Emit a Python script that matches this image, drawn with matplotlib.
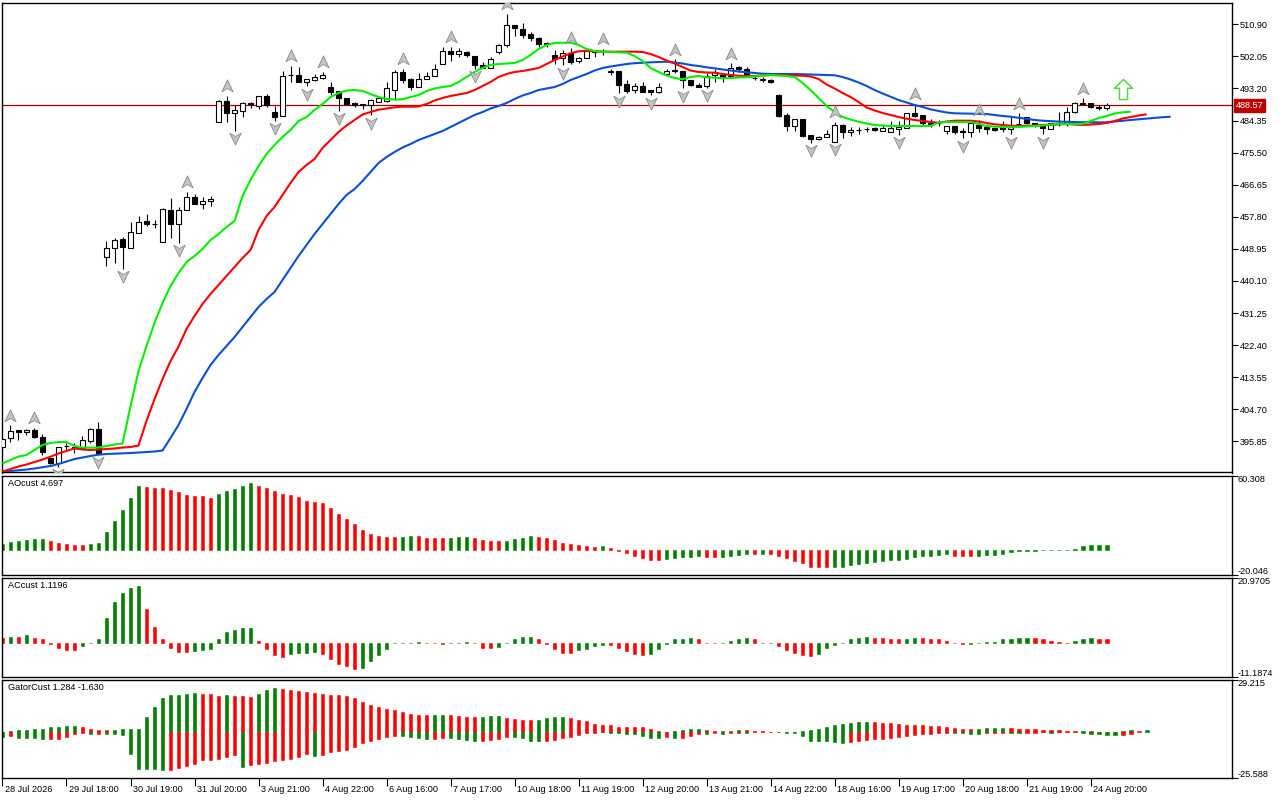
import numpy as np
import matplotlib
matplotlib.use("Agg")
import matplotlib.pyplot as plt
from matplotlib.path import Path
from matplotlib import transforms
from matplotlib import font_manager as fm

# ---------------- data ----------------
date_labels = ["28 Jul 2026", "29 Jul 18:00", "30 Jul 19:00", "31 Jul 20:00", "3 Aug 21:00",
               "4 Aug 22:00", "6 Aug 16:00", "7 Aug 17:00", "10 Aug 18:00", "11 Aug 19:00",
               "12 Aug 20:00", "13 Aug 21:00", "14 Aug 22:00", "18 Aug 16:00", "19 Aug 17:00",
               "20 Aug 18:00", "21 Aug 19:00", "24 Aug 20:00"]
price_ticks = [510.90, 502.05, 493.20, 484.35, 475.50, 466.65, 457.80, 448.95, 440.10,
               431.25, 422.40, 413.55, 404.70, 395.85]

open_ = [394.2, 396.7, 398.9, 398.3, 398.9, 397.1, 391.2, 389.8, 394.5, 394.0,
         393.9, 396.0, 399.2, 446.6, 449.1, 451.7, 449.3, 453.2, 456.6, 455.9,
         450.9, 459.6, 455.7, 459.6, 463.3, 461.2, 462.1, 484.0, 489.7, 486.3,
         487.1, 488.8, 488.4, 491.0, 486.6, 485.7, 496.8, 496.9, 494.9, 495.5,
         496.2, 493.5, 492.5, 490.7, 489.1, 488.8, 488.5, 489.6, 489.7, 492.9,
         497.7, 495.9, 493.7, 495.9, 496.6, 499.9, 503.5, 502.6, 503.3, 502.2,
         499.7, 498.9, 503.3, 505.2, 510.7, 509.5, 508.2, 507.0, 505.7, 502.4,
         501.5, 502.9, 500.9, 501.5, 503.2, 503.4, 497.8, 498.0, 494.4, 492.8,
         493.9, 492.8, 492.3, 497.2, 498.1, 498.0, 495.5, 494.2, 493.9, 497.0,
         496.9, 496.5, 499.2, 498.7, 496.1, 495.8, 495.5, 491.4, 485.9, 482.9,
         484.8, 480.4, 479.2, 479.7, 478.5, 483.1, 481.1, 481.7, 482.0, 482.2,
         481.5, 481.1, 481.9, 482.4, 486.3, 485.9, 483.6, 483.6, 481.6, 482.8,
         481.6, 481.3, 483.1, 482.5, 482.2, 482.5, 482.0, 483.4, 485.2, 483.6,
         482.8, 481.9, 483.5, 483.4, 486.8, 489.0, 489.1, 488.2, 487.7]
high = [397.0, 400.3, 398.9, 399.2, 399.6, 398.0, 391.3, 394.4, 395.5, 395.3,
        397.3, 399.6, 401.2, 451.2, 452.0, 452.3, 456.3, 458.0, 458.5, 456.9,
        460.1, 462.9, 460.4, 464.7, 464.0, 463.3, 463.6, 490.0, 491.1, 488.6,
        489.6, 489.6, 491.0, 491.7, 488.4, 498.0, 499.4, 499.0, 495.7, 497.2,
        497.7, 495.1, 492.5, 490.7, 489.6, 488.8, 490.2, 490.9, 495.1, 498.4,
        498.7, 496.2, 497.4, 497.8, 499.9, 504.5, 504.7, 504.3, 503.6, 502.2,
        500.6, 501.8, 505.6, 513.7, 510.7, 511.2, 508.9, 507.3, 506.1, 503.8,
        503.8, 504.4, 502.0, 503.9, 503.7, 504.1, 498.7, 498.0, 495.5, 494.6,
        495.1, 492.8, 494.6, 498.7, 501.2, 498.0, 495.5, 494.6, 497.4, 498.7,
        496.9, 500.1, 499.4, 499.2, 496.9, 496.3, 495.7, 491.6, 486.5, 484.8,
        484.8, 480.4, 480.1, 481.7, 484.0, 483.4, 482.7, 482.7, 482.5, 482.7,
        483.4, 484.3, 484.3, 486.3, 488.9, 485.9, 484.7, 484.5, 482.8, 482.8,
        482.2, 484.0, 484.5, 483.4, 482.7, 484.3, 485.4, 486.3, 485.4, 483.8,
        482.8, 483.8, 486.8, 488.2, 489.6, 490.5, 489.3, 488.6, 489.1]
low = [393.5, 395.8, 396.2, 397.6, 396.9, 392.1, 389.6, 388.9, 393.5, 392.6,
       393.7, 395.3, 392.4, 444.3, 445.1, 443.5, 449.1, 453.2, 455.3, 454.6,
       450.9, 452.0, 450.7, 459.6, 461.2, 460.0, 460.9, 484.0, 484.0, 481.6,
       485.4, 487.7, 487.4, 488.2, 484.3, 485.7, 495.1, 494.9, 493.9, 495.3,
       495.7, 491.4, 487.1, 488.5, 488.0, 487.4, 485.9, 489.6, 489.5, 490.0,
       494.6, 492.9, 493.5, 495.7, 496.6, 499.9, 500.9, 501.8, 502.0, 498.7,
       498.9, 498.9, 502.7, 504.7, 507.7, 507.0, 506.4, 504.7, 504.7, 500.0,
       499.6, 499.9, 500.1, 501.5, 502.0, 502.4, 496.9, 491.9, 492.0, 492.0,
       492.3, 491.4, 492.0, 496.5, 497.4, 493.3, 493.9, 493.7, 493.4, 495.1,
       495.1, 496.3, 497.8, 496.9, 495.5, 495.1, 494.6, 485.4, 481.6, 481.6,
       479.7, 478.2, 479.0, 479.7, 478.5, 479.4, 480.1, 480.6, 481.3, 481.5,
       481.5, 481.1, 480.4, 482.4, 485.4, 483.1, 482.5, 482.8, 480.6, 480.6,
       479.4, 479.9, 481.3, 480.6, 481.5, 481.3, 480.6, 482.7, 483.4, 482.7,
       480.6, 481.9, 482.8, 482.8, 486.5, 488.6, 487.7, 487.2, 487.2]
close = [396.4, 398.8, 398.3, 398.9, 397.1, 393.0, 389.8, 394.2, 394.6, 394.3,
         396.2, 399.2, 392.5, 449.1, 451.4, 449.4, 453.5, 456.3, 455.8, 455.7,
         459.9, 455.7, 459.6, 463.3, 461.2, 462.1, 462.7, 489.7, 486.3, 487.3,
         489.1, 489.1, 491.0, 488.6, 485.4, 496.7, 496.9, 494.9, 495.7, 496.3,
         496.8, 492.3, 490.7, 488.9, 488.6, 488.5, 490.0, 490.6, 493.2, 497.7,
         495.5, 493.5, 495.9, 496.5, 498.7, 503.6, 502.6, 503.5, 502.4, 499.6,
         498.9, 501.2, 505.2, 510.7, 509.8, 507.9, 507.0, 505.5, 505.6, 501.2,
         502.9, 500.6, 501.5, 503.6, 503.5, 503.6, 497.9, 494.1, 492.6, 493.9,
         492.3, 492.3, 493.5, 498.0, 498.2, 495.5, 494.1, 493.7, 496.6, 497.8,
         496.3, 498.9, 498.5, 497.2, 496.0, 495.4, 495.1, 485.6, 482.8, 484.8,
         480.1, 479.2, 479.9, 480.6, 483.1, 481.1, 481.7, 481.8, 482.1, 481.7,
         482.4, 482.2, 482.7, 486.3, 485.7, 483.6, 483.5, 483.7, 482.8, 481.3,
         481.1, 483.6, 482.2, 481.9, 481.7, 482.0, 482.7, 483.5, 483.6, 483.1,
         482.4, 483.8, 483.6, 486.8, 489.1, 489.1, 488.0, 487.7, 488.57]

# Alligator lines (already shifted forward: lips +3, teeth +5, jaw +8 bars)
lips = [389.74, 390.70, 391.67, 392.08, 393.46, 394.84, 395.39, 395.67, 395.67, 394.57,
        394.15, 394.10, 394.15, 394.57, 394.98, 395.26, 405.5, 415.26, 422.15, 428.50,
        434.01, 438.70, 442.29, 445.32, 446.98, 448.91, 451.39, 453.05, 454.98, 456.63,
        463.53, 467.94, 471.81, 475.12, 477.60, 479.81, 481.74, 484.22, 485.32, 487.26,
        488.91, 490.84, 491.94, 492.63, 492.77, 492.50, 491.67, 490.84, 490.29, 490.15,
        490.21, 490.84, 491.39, 492.50, 493.19, 493.60, 493.88, 494.98, 496.36, 497.74,
        498.84, 499.67, 499.94, 500.08, 500.22, 501.05, 502.43, 504.08, 505.19, 505.74,
        505.82, 505.82, 505.19, 504.08, 503.53, 503.34, 503.26, 503.17, 503.06, 502.15,
        500.77, 498.84, 497.74, 496.77, 496.08, 495.72, 496.36, 496.63, 496.28, 496.14,
        496.03, 496.08, 496.22, 496.28, 496.50, 496.77, 496.91, 496.77, 496.63, 496.36,
        494.70, 492.77, 490.57, 488.36, 486.70, 485.32, 484.63, 484.03, 483.53, 483.12,
        482.98, 482.84, 482.84, 482.84, 482.84, 482.84, 482.84, 483.81, 483.94, 483.94,
        483.94, 483.94, 483.39, 482.84, 482.70, 482.57, 482.48, 482.57, 482.70, 482.84,
        482.98, 483.26, 483.39, 483.39, 483.39, 483.39, 484.22, 485.05, 485.60, 486.29,
        486.62, 486.79]
teeth = [387.53, 388.22, 388.91, 389.46, 390.15, 390.84, 391.61, 392.50, 393.19, 393.93,
         393.60, 393.46, 393.60, 393.74, 393.88, 394.15, 394.29, 394.70, 401.5, 407.5,
         413.0, 418.0, 422.0, 426.84, 430.43, 433.74, 436.50, 438.98, 441.46, 443.94,
         446.43, 448.63, 454.15, 458.01, 460.50, 463.81, 467.12, 470.15, 472.08, 473.74,
         476.77, 478.98, 481.19, 482.98, 484.50, 486.01, 486.70, 487.34, 487.67, 488.00,
         488.17, 488.17, 488.22, 488.91, 489.88, 490.57, 491.12, 491.53, 491.94, 492.77,
         493.88, 494.98, 496.36, 497.19, 497.74, 498.01, 498.43, 498.84, 499.94, 501.05,
         502.01, 502.90, 503.45, 503.61, 503.45, 503.34, 503.34, 503.34, 503.34, 503.34,
         503.26, 502.70, 501.88, 500.91, 500.08, 499.12, 498.15, 497.74, 497.60, 497.54,
         497.19, 496.91, 496.69, 496.63, 496.63, 496.77, 496.91, 496.91, 496.83, 496.77,
         496.72, 496.50, 495.81, 494.29, 493.19, 491.94, 490.84, 489.46, 487.94, 487.12,
         486.43, 485.88, 485.32, 484.86, 484.50, 484.22, 483.94, 483.75, 484.08, 484.30,
         484.30, 484.30, 484.08, 483.67, 483.31, 483.12, 482.92, 482.84, 482.90, 482.98,
         483.12, 483.20, 483.31, 483.39, 483.26, 483.12, 483.26, 483.39, 483.67, 484.22,
         484.91, 485.32, 485.74, 486.07]
jaw = [387.53, 387.67, 387.86, 388.08, 388.36, 388.69, 389.05, 389.60, 390.29, 390.98,
       391.39, 391.81, 392.17, 392.36, 392.44, 392.55, 392.63, 392.77, 392.91, 393.05,
       393.32, 396.77, 400.36, 404.77, 409.46, 413.32, 416.91, 419.67, 422.15, 424.63,
       427.39, 430.15, 432.91, 435.12, 437.05, 440.36, 443.67, 446.98, 450.01, 453.05,
       455.81, 458.57, 461.32, 463.81, 465.46, 467.67, 470.15, 472.63, 474.29, 475.67,
       476.91, 477.88, 478.98, 479.81, 480.63, 481.46, 482.57, 483.67, 484.77, 485.88,
       486.70, 487.67, 488.36, 489.19, 490.29, 491.26, 491.94, 492.77, 493.19, 493.60,
       494.43, 495.53, 496.36, 497.19, 498.15, 498.84, 499.26, 499.61, 499.94, 500.17,
       500.30, 500.41, 500.50, 500.58, 500.36, 500.08, 499.67, 499.39, 499.03, 498.76,
       498.43, 498.15, 497.88, 497.66, 497.46, 497.27, 497.19, 497.19, 497.19, 497.19,
       497.13, 497.05, 496.97, 496.91, 496.83, 496.36, 495.67, 494.84, 493.88, 492.77,
       491.81, 490.92, 490.01, 489.32, 488.63, 488.08, 487.45, 486.98, 486.57, 486.34,
       486.29, 486.23, 486.21, 486.15, 485.88, 485.60, 485.41, 485.10, 484.77, 484.50,
       484.30, 484.17, 484.06, 484.00, 483.94, 483.89, 483.86, 483.86, 483.86, 484.08,
       484.30, 484.50, 484.69, 484.91, 485.10, 485.27, 485.41]

fractal_up = [1, 4, 23, 28, 36, 40, 50, 56, 63, 71, 75, 84, 91, 104, 114, 122, 127, 135]
fractal_down = [7, 12, 15, 22, 29, 34, 38, 42, 46, 59, 70, 77, 81, 85, 88, 101, 104,
                112, 120, 126, 130]
signal_bar = 140
signal_price = 493.0
last_price = 488.57

ao = [4.8, 6.5, 7.3, 8.1, 9.0, 9.1, 7.3, 5.6, 4.8, 4.0,
      3.9, 4.8, 5.6, 14.7, 23.9, 33.0, 42.1, 52.0, 51.2, 50.4,
      50.3, 48.7, 47.1, 45.1, 44.3, 43.8, 42.1, 45.4, 47.9, 49.6,
      52.0, 54.5, 52.0, 50.4, 47.9, 45.4, 44.6, 42.9, 40.4, 39.6,
      38.0, 34.1, 29.7, 25.5, 21.4, 16.4, 13.1, 11.4, 10.6, 10.5,
      10.9, 11.4, 11.3, 10.3, 9.8, 9.7, 9.8, 10.6, 10.7, 9.7,
      8.1, 7.3, 7.2, 7.4, 8.9, 9.7, 11.4, 10.6, 9.7, 8.1,
      5.6, 4.8, 4.0, 3.2, 2.3, 3.2, 1.5, -0.3, -1.8, -4.3,
      -6.0, -7.6, -7.7, -6.8, -6.0, -5.2, -5.1, -4.3, -5.1, -5.2,
      -5.1, -4.3, -3.5, -2.7, -2.8, -2.7, -2.8, -4.3, -6.0, -8.5,
      -10.1, -13.4, -13.5, -13.6, -13.4, -13.3, -11.8, -11.0, -10.1, -9.3,
      -8.5, -7.6, -7.5, -6.8, -5.1, -5.0, -4.3, -3.5, -3.4, -4.3,
      -4.4, -4.5, -4.3, -4.0, -3.5, -2.7, -1.6, -0.8, -0.4, -0.2,
      -0.1, 0.1, 0.2, 0.4, 1.4, 3.1, 4.0, 4.1, 4.697]
ao_prev = 4.5
ac = [1.6, 1.9, 1.85, 2.3, 1.6, 1.0, -0.6, -1.9, -2.3, -2.35,
      -1.2, -0.2, 1.0, 7.9, 13.1, 16.0, 17.7, 18.4, 10.8, 4.9,
      1.0, -1.7, -3.0, -3.05, -2.6, -2.3, -2.25, 1.3, 3.3, 4.0,
      4.6, 4.65, 0.6, -2.0, -4.0, -4.6, -3.6, -3.3, -3.25, -3.0,
      -3.6, -5.3, -6.9, -7.6, -8.6, -8.2, -6.0, -4.0, -2.0, -0.15,
      -0.1, -0.05, 0.02, -0.1, -0.3, -0.35, -0.1, -0.05, 0.2, -0.2,
      -1.7, -1.9, -1.5, -0.1, 1.0, 1.9, 1.95, 1.3, -0.6, -2.2,
      -3.3, -3.35, -2.5, -2.2, -1.2, -0.7, -0.9, -1.9, -2.9, -3.6,
      -4.0, -3.6, -2.2, -0.6, 1.0, 1.3, 1.35, 1.0, -0.1, -0.15,
      -0.1, 0.6, 1.3, 1.35, 1.0, -0.1, -0.2, -1.2, -2.5, -3.3,
      -4.0, -4.3, -3.6, -1.9, -0.9, -0.2, 1.0, 1.6, 1.65, 1.6,
      1.55, 1.3, 1.25, 1.3, 1.6, 1.55, 1.3, 1.25, 0.6, -0.2,
      -0.6, -0.5, -0.1, 0.1, 0.2, 1.0, 1.3, 1.35, 1.6, 1.55,
      1.0, 0.6, 0.1, -0.2, 0.6, 1.3, 1.6, 1.3, 1.1196]
ac_prev = 1.8
gator_up = [0.4, 0.9, 1.0, 1.5, 1.7, 1.8, 2.8, 2.9, 3.4, 3.5,
            2.8, 1.7, 1.2, 1.1, 1.5, 1.7, 1.8, 1.9, 8.4, 14.1,
            19.1, 20.6, 21.0, 21.6, 22.1, 21.6, 21.2, 20.5, 20.7, 20.4,
            20.0, 19.7, 21.6, 23.8, 25.0, 24.4, 23.8, 23.3, 22.7, 22.1,
            21.6, 21.0, 20.9, 20.5, 19.3, 17.1, 15.4, 14.3, 13.1, 12.6,
            11.4, 10.3, 9.8, 9.7, 9.8, 9.9, 9.8, 9.2, 8.6, 8.4,
            8.7, 9.0, 9.2, 7.9, 7.5, 7.1, 6.6, 7.1, 7.7, 8.3,
            8.6, 8.1, 6.9, 6.4, 4.7, 4.3, 3.8, 3.2, 2.8, 2.75,
            2.7, 1.9, 0.8, 0.2, 0.8, 1.3, 1.9, 1.95, 1.3, 0.9,
            0.6, 0.65, 1.3, 1.25, 0.6, 0.55, 0.2, 0.15, 0.2, 0.25,
            0.6, 1.3, 1.9, 2.8, 4.1, 4.7, 5.4, 5.8, 5.9, 5.8,
            5.3, 5.2, 4.7, 4.3, 4.1, 3.8, 3.6, 3.5, 2.8, 2.4,
            1.9, 1.7, 1.75, 2.25, 2.3, 2.35, 2.3, 1.7, 1.65, 1.6,
            1.5, 1.1, 1.05, 0.75, 0.7, 0.75, 0.6, 0.2, 0.2, 0.25,
            0.5, 1.1, 0.9, 1.0]
gator_down = [-2.4, -1.9, -3.0, -3.05, -3.1, -3.6, -3.6, -3.5, -2.4, -0.8,
              -0.7, -0.8, -0.75, -0.9, -1.2, -1.3, -12.0, -20.4, -20.5, -20.6,
              -21.0, -20.95, -19.9, -18.8, -17.6, -15.4, -15.3, -15.0, -13.9, -12.8,
              -19.5, -18.4, -17.6, -17.1, -16.3, -15.4, -15.0, -13.9, -12.2, -13.3,
              -12.8, -11.1, -10.5, -9.9, -8.3, -6.0, -4.9, -3.8, -2.6, -1.9,
              -2.3, -2.8, -3.2, -3.8, -3.7, -3.2, -3.3, -3.8, -4.3, -4.9,
              -4.8, -4.3, -4.0, -2.6, -2.65, -3.2, -4.7, -4.75, -4.7, -4.1,
              -3.2, -2.6, -1.3, -0.4, -0.2, -0.1, -0.4, -0.45, -0.9, -0.95,
              -1.9, -3.0, -3.05, -2.9, -3.1, -3.0, -1.9, -0.9, -1.0, -0.6,
              -1.1, -0.6, -0.4, -0.5, -0.1, -0.1, -0.05, -0.1, -0.15, -0.2,
              -2.0, -4.7, -4.75, -4.8, -5.3, -5.8, -5.3, -4.7, -4.1, -3.8,
              -3.7, -3.0, -2.4, -1.9, -1.8, -0.9, -0.85, -0.6, -0.2, -0.4,
              -0.6, -0.75, -0.8, -0.55, -0.5, -0.45, -0.5, -0.55, -0.3, -0.2,
              -0.1, -0.3, -0.1, -0.05, -0.1, -0.3, -0.9, -1.1, -1.7, -1.75,
              -1.6, -1.1]

main_range = (387.26, 516.91)
ao_range = (-20.046, 60.308)
ac_range = (-11.1874, 20.9705)
gator_range = (-25.588, 29.215)
ao_label = "AOcust 4.697"
ac_label = "ACcust 1.1196"
gator_label = "GatorCust 1.284 -1.630"
range_fmt = {"ao": ("60.308", "-20.046"), "ac": ("20.9705", "-11.1874"), "gator": ("29.215", "-25.588")}

# ---------------- style ----------------
names = {f.name for f in fm.fontManager.ttflist}
if "Liberation Sans Narrow" in names:
    FONT, FS = "Liberation Sans Narrow", 7.6
else:
    FONT, FS = "Liberation Sans", 6.6
plt.rcParams["font.family"] = [FONT, "DejaVu Sans"]

GREEN = "#008000"
RED = "#ff0000"
W, H = 1280, 800
fig = plt.figure(figsize=(12.8, 8), dpi=100, facecolor="white")


def axes_px(x0, y0, x1, y1):
    return fig.add_axes([x0 / W, 1 - y1 / H, (x1 - x0) / W, (y1 - y0) / H])


ax_main = axes_px(2, 2.5, 1231.5, 472.5)
ax_ao = axes_px(2, 476, 1231.5, 575)
ax_ac = axes_px(2, 578, 1231.5, 677)
ax_g = axes_px(2, 680, 1231.5, 778)
XL = (-0.06, 153.6)

for ax in (ax_main, ax_ao, ax_ac, ax_g):
    ax.set_xlim(*XL)
    for s in ax.spines.values():
        s.set_color("black")
        s.set_linewidth(1.0)
    ax.set_facecolor("white")
    ax.yaxis.tick_right()
    ax.tick_params(axis="y", right=True, left=False, labelright=True, labelleft=False,
                   length=4, width=0.8, pad=2, labelsize=FS, direction="out", colors="black")
    ax.set_xticks([])

# ---------------- main chart ----------------
o = np.array(open_); h = np.array(high); l = np.array(low); c = np.array(close)
idx = np.arange(len(c))
bull = c >= o
ax_main.vlines(idx, l, h, color="black", lw=0.8, zorder=2)
ax_main.bar(idx, np.abs(c - o), bottom=np.minimum(o, c), width=0.62,
            color=np.where(bull, "white", "black"), edgecolor="black", linewidth=0.8, zorder=3)

ax_main.axhline(last_price, color="#a80000", lw=0.9, zorder=1)
ax_main.plot(np.arange(len(jaw)), jaw, color="#0a4fd6", lw=1.5, zorder=4, solid_capstyle="butt")
ax_main.plot(np.arange(len(teeth)), teeth, color="#ff0000", lw=1.5, zorder=4, solid_capstyle="butt")
ax_main.plot(np.arange(len(lips)), lips, color="#00f000", lw=1.5, zorder=4, solid_capstyle="butt")

up_path = Path([(0, 1), (-0.85, -0.8), (0, -0.3), (0.85, -0.8), (0, 1)],
               [Path.MOVETO, Path.LINETO, Path.LINETO, Path.LINETO, Path.CLOSEPOLY])
dn_path = Path([(0, -1), (-0.85, 0.8), (0, 0.3), (0.85, 0.8), (0, -1)],
               [Path.MOVETO, Path.LINETO, Path.LINETO, Path.LINETO, Path.CLOSEPOLY])
tr_up = transforms.offset_copy(ax_main.transData, fig=fig, x=0, y=7, units="points")
tr_dn = transforms.offset_copy(ax_main.transData, fig=fig, x=0, y=-5.5, units="points")
fu = np.array(fractal_up); fd = np.array(fractal_down)
ax_main.plot(fu, h[fu], ls="none", marker=up_path, ms=9.5, mfc="#c4c4c4", mec="#8a8a8a",
             mew=0.6, transform=tr_up, zorder=5)
ax_main.plot(fd, l[fd], ls="none", marker=dn_path, ms=9.5, mfc="#c4c4c4", mec="#8a8a8a",
             mew=0.6, transform=tr_dn, zorder=5)

sig_path = Path([(0, 1), (-0.9, 0.12), (-0.4, 0.12), (-0.4, -1), (0.4, -1), (0.4, 0.12),
                 (0.9, 0.12), (0, 1)],
                [Path.MOVETO] + [Path.LINETO] * 6 + [Path.CLOSEPOLY])
ax_main.plot([signal_bar], [signal_price], ls="none", marker=sig_path, ms=14.5,
             mfc="white", mec="#5ad64a", mew=1.1, zorder=6)

ax_main.set_ylim(*main_range)
ax_main.set_yticks(price_ticks)
ax_main.set_yticklabels([f"{p:.2f}" for p in price_ticks])
ax_main.annotate(f"{last_price:.2f}", xy=(1, last_price),
                 xycoords=("axes fraction", "data"), xytext=(3, 0), textcoords="offset points",
                 ha="left", va="center", color="white", fontsize=FS,
                 bbox=dict(boxstyle="square,pad=0.22", fc="#c00000", ec="#c00000"),
                 annotation_clip=False, zorder=10)


# ---------------- indicator panels ----------------
def colors_from(vals, prev=None):
    v = np.asarray(vals, dtype=float)
    p = np.r_[v[0] - 1 if prev is None else prev, v[:-1]]
    return np.where(v > p, GREEN, RED)


def range_labels(ax, rng, labels):
    lo, hi = rng
    ax.set_ylim(lo, hi)
    ax.set_yticks([lo, hi])
    ax.set_yticklabels(["", ""])
    ax.annotate(labels[0], xy=(1, hi), xycoords=("axes fraction", "data"), xytext=(4.5, 1),
                textcoords="offset points", ha="left", va="top", fontsize=FS,
                annotation_clip=False)
    ax.annotate(labels[1], xy=(1, lo), xycoords=("axes fraction", "data"), xytext=(4.5, -1),
                textcoords="offset points", ha="left", va="bottom", fontsize=FS,
                annotation_clip=False)


def panel_title(ax, text):
    ax.annotate(text, xy=(0, 1), xycoords="axes fraction", xytext=(4, -2.5),
                textcoords="offset points", ha="left", va="top", fontsize=FS)


BW = 0.46
aoc = colors_from(ao, ao_prev)
ax_ao.bar(np.arange(len(ao)), ao, width=BW, color=aoc, edgecolor=aoc, linewidth=0.4)
range_labels(ax_ao, ao_range, range_fmt["ao"])
panel_title(ax_ao, ao_label)

acc = colors_from(ac, ac_prev)
ax_ac.bar(np.arange(len(ac)), ac, width=BW, color=acc, edgecolor=acc, linewidth=0.4)
range_labels(ax_ac, ac_range, range_fmt["ac"])
panel_title(ax_ac, ac_label)

guc = colors_from(gator_up)
gdc = colors_from(np.abs(gator_down))
ax_g.bar(np.arange(len(gator_up)), gator_up, width=BW, color=guc, edgecolor=guc, linewidth=0.4)
ax_g.bar(np.arange(len(gator_down)), gator_down, width=BW, color=gdc, edgecolor=gdc, linewidth=0.4)
range_labels(ax_g, gator_range, range_fmt["gator"])
panel_title(ax_g, gator_label)

ax_g.set_xticks(np.arange(0, 8 * len(date_labels), 8))
ax_g.set_xticklabels(date_labels)
ax_g.tick_params(axis="x", bottom=True, length=6, width=0.8, pad=-1, labelsize=FS,
                 direction="out", colors="black")
shift = transforms.ScaledTranslation(2 / 72, 0, fig.dpi_scale_trans)
for lab in ax_g.get_xticklabels():
    lab.set_horizontalalignment("left")
    lab.set_transform(lab.get_transform() + shift)

fig.savefig("out.png", dpi=100, facecolor="white")
